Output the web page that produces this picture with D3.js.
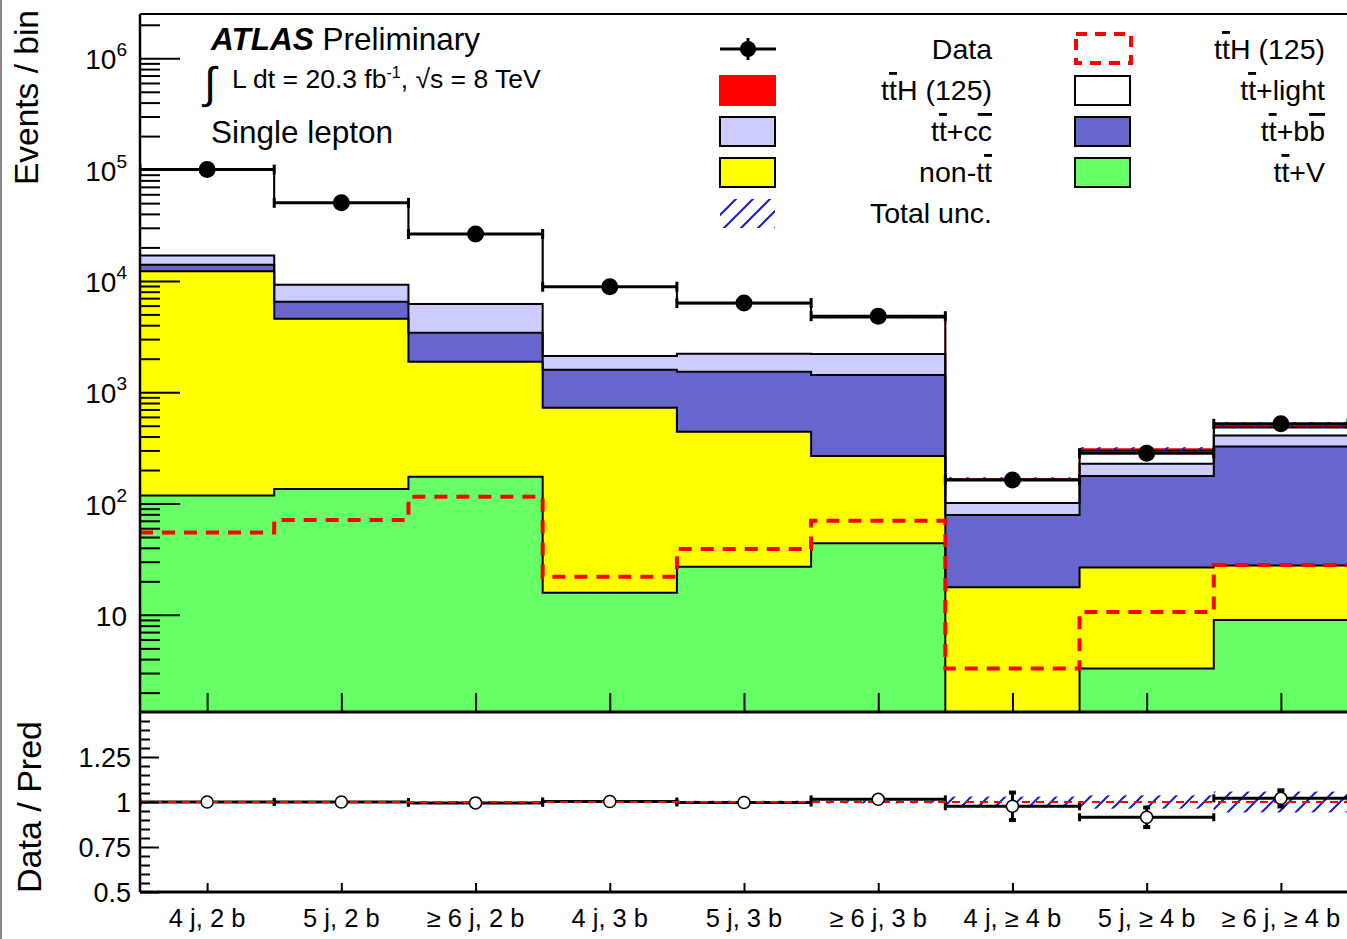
<!DOCTYPE html>
<html>
<head>
<meta charset="utf-8">
<script src="https://cdn.jsdelivr.net/npm/d3@7"></script>
<style>
body { margin: 0; background: #fff; }
text { font-family: "Liberation Sans", Arial, Helvetica, sans-serif; fill: #000; }
</style>
</head>
<body>
<svg id="chart" width="1347" height="939"></svg>
<script>
//
// Data
//
var categories = ["4 j, 2 b", "5 j, 2 b", "\u2265 6 j, 2 b", "4 j, 3 b", "5 j, 3 b",
                  "\u2265 6 j, 3 b", "4 j, \u2265 4 b", "5 j, \u2265 4 b", "\u2265 6 j, \u2265 4 b"];
var dataObs = [100000, 50300, 26400, 8870, 6330, 4820, 163, 283, 520];
var ttV     = [118, 135, 174, 15.8, 27, 44, 1.0, 3.3, 9.0];
var nonTT   = [12080, 4430, 1700, 710, 414, 224, 16.7, 23.3, 18.7];
var ttbb    = [1760, 1930, 1540, 865, 1085, 1162, 61.3, 150, 297];
var ttcc    = [2940, 2740, 2800, 530, 685, 780, 22, 51, 83];
var ttlight = [83000, 41000, 20200, 6700, 4100, 2470, 62.7, 71, 74];
var ttH     = [55, 71, 115, 22, 39, 70, 3.3, 10.6, 28];
var totUnc  = [0.004, 0.004, 0.005, 0.006, 0.007, 0.008, 0.03, 0.037, 0.058];

var yMajor = [10, 100, 1000, 10000, 100000, 1000000];
var rMajor = [0.5, 0.75, 1, 1.25];
var rLabels = ["0.5", "0.75", "1", "1.25"];

//
// Layout
//
var plotLeft = 140, plotRight = 1348,
    plotTop = 14, plotMid = 712, plotBottom = 892,
    ymin = 1.34, ymax = 2.5e6;

var svg = d3.select("#chart");

var x = d3.scaleLinear().domain([0, categories.length]).range([plotLeft, plotRight]);
var y = d3.scaleLog().domain([ymin, ymax]).range([plotMid, plotTop]);
var r = d3.scaleLinear().domain([0.5, 1.5]).range([plotBottom, plotMid]);

function yc(v) { return y(Math.max(v, ymin)); }

// table for the stack
var keys = ["ttV", "nonTT", "ttbb", "ttcc", "ttlight", "ttH"];
var colors = {ttV: "#66ff66", nonTT: "#ffff00", ttbb: "#6666cc", ttcc: "#ccccff", ttlight: "#ffffff", ttH: "#ff0000"};
var table = categories.map(function(c, i) {
    return {cat: c, ttV: ttV[i], nonTT: nonTT[i], ttbb: ttbb[i], ttcc: ttcc[i], ttlight: ttlight[i], ttH: ttH[i]};
});
var series = d3.stack().keys(keys)(table);
var pred = table.map(function(d) { return d3.sum(keys, function(k) { return d[k]; }); });

// defs: clip + hatch
var defs = svg.append("defs");
defs.append("clipPath").attr("id", "clipMain")
    .append("rect").attr("x", plotLeft).attr("y", plotTop).attr("width", plotRight - plotLeft).attr("height", plotMid - plotTop);
defs.append("clipPath").attr("id", "clipRatio")
    .append("rect").attr("x", plotLeft).attr("y", plotMid).attr("width", plotRight - plotLeft).attr("height", plotBottom - plotMid);
var pat = defs.append("pattern").attr("id", "hatch")
    .attr("patternUnits", "userSpaceOnUse").attr("width", 17).attr("height", 17);
pat.append("path").attr("d", "M0,17 L17,0 M-3,3 L3,-3 M14,20 L20,14")
    .attr("stroke", "#1a1acc").attr("stroke-width", 2);

// left border of the picture
svg.append("line").attr("x1", 1).attr("x2", 1).attr("y1", 0).attr("y2", 939)
    .attr("stroke", "#888").attr("stroke-width", 2);

//
// Main panel
//
var main = svg.append("g").attr("clip-path", "url(#clipMain)");

function stepPoints(arr) {
    var pts = [];
    arr.forEach(function(v, i) { pts.push([i, v]); pts.push([i + 1, v]); });
    return pts;
}

var area = d3.area()
    .x(function(d) { return x(d[0]); })
    .y0(function(d) { return yc(d[1]); })
    .y1(function(d) { return yc(d[2]); });
var stepLine = d3.line()
    .x(function(d) { return x(d[0]); })
    .y(function(d) { return yc(d[1]); });

series.forEach(function(s) {
    var pts = [];
    s.forEach(function(d, i) { pts.push([i, d[0], d[1]]); pts.push([i + 1, d[0], d[1]]); });
    main.append("path").attr("d", area(pts)).attr("fill", colors[s.key]).attr("stroke", "none");
});
// outlines: signal (red) first, backgrounds (black) over it
series.slice().reverse().forEach(function(s) {
    main.append("path")
        .attr("d", stepLine(stepPoints(s.map(function(d) { return d[1]; }))))
        .attr("fill", "none")
        .attr("stroke", s.key == "ttH" ? "#ff0000" : "#000")
        .attr("stroke-width", s.key == "ttH" ? 1.5 : 2);
});

// ttH overlay (dashed)
main.append("path")
    .attr("d", stepLine(stepPoints(ttH)))
    .attr("fill", "none").attr("stroke", "#ff0000")
    .attr("stroke-width", 4).attr("stroke-dasharray", "13,9");

// total uncertainty band on top of the stack
main.selectAll(".uncMain").data(pred).enter().append("rect")
    .attr("class", "uncMain")
    .attr("x", function(d, i) { return x(i); })
    .attr("width", x(1) - x(0))
    .attr("y", function(d, i) { return yc(d * (1 + totUnc[i])); })
    .attr("height", function(d, i) { return yc(d * (1 - totUnc[i])) - yc(d * (1 + totUnc[i])); })
    .attr("fill", "url(#hatch)");

// data
var dg = main.append("g");
dataObs.forEach(function(v, i) {
    var yy = y(v), e = Math.sqrt(v);
    dg.append("line").attr("x1", x(i)).attr("x2", x(i + 1)).attr("y1", yy).attr("y2", yy)
        .attr("stroke", "#000").attr("stroke-width", 3);
    [x(i), x(i + 1)].forEach(function(xx) {
        dg.append("line").attr("x1", xx).attr("x2", xx).attr("y1", yy - 5).attr("y2", yy + 5)
            .attr("stroke", "#000").attr("stroke-width", 3);
    });
    dg.append("line").attr("x1", x(i + 0.5)).attr("x2", x(i + 0.5))
        .attr("y1", y(v + e)).attr("y2", y(v - e))
        .attr("stroke", "#000").attr("stroke-width", 3);
    dg.append("circle").attr("cx", x(i + 0.5)).attr("cy", yy).attr("r", 8.5).attr("fill", "#000");
});

// main axes
var yAxisMajor = d3.axisLeft(y).tickValues(yMajor).tickSize(-40).tickFormat("");
var yMinor = [];
for (var k = 0; k <= 6; k++) {
    for (var m = 2; m <= 9; m++) {
        var v = m * Math.pow(10, k);
        if (v > ymin && v < ymax) yMinor.push(v);
    }
}
var yAxisMinor = d3.axisLeft(y).tickValues(yMinor).tickSize(-20).tickFormat("");
svg.append("g").attr("transform", "translate(" + plotLeft + ",0)").call(yAxisMajor);
svg.append("g").attr("transform", "translate(" + plotLeft + ",0)").call(yAxisMinor);

svg.append("g").attr("transform", "translate(0," + plotMid + ")")
    .call(d3.axisBottom(x).tickValues(d3.range(categories.length).map(function(i) { return i + 0.5; }))
        .tickSize(-19).tickFormat(""));

svg.selectAll(".domain").remove();
svg.selectAll(".tick line").attr("stroke", "#000").attr("stroke-width", 2);

// y labels 10^n
yMajor.forEach(function(v) {
    var p = Math.round(Math.log10(v));
    var t = svg.append("text").attr("x", 127).attr("y", y(v) + 11)
        .attr("text-anchor", "end").style("font-size", "28px");
    t.append("tspan").text("10");
    if (p > 1) t.append("tspan").attr("dy", -13).style("font-size", "19px").text(p);
});

//
// Ratio panel
//
var rg = svg.append("g").attr("clip-path", "url(#clipRatio)");
rg.selectAll(".uncRatio").data(totUnc).enter().append("rect")
    .attr("class", "uncRatio")
    .attr("x", function(d, i) { return x(i); })
    .attr("width", x(1) - x(0))
    .attr("y", function(d) { return r(1 + d); })
    .attr("height", function(d) { return r(1 - d) - r(1 + d); })
    .attr("fill", "url(#hatch)");

var ratio = dataObs.map(function(v, i) { return v / pred[i]; });
var ratioErr = dataObs.map(function(v, i) { return Math.sqrt(v) / pred[i]; });

ratio.forEach(function(v, i) {
    var yy = r(v);
    rg.append("line").attr("x1", x(i)).attr("x2", x(i + 1)).attr("y1", yy).attr("y2", yy)
        .attr("stroke", "#000").attr("stroke-width", 3);
    [x(i), x(i + 1)].forEach(function(xx) {
        rg.append("line").attr("x1", xx).attr("x2", xx).attr("y1", yy - 4).attr("y2", yy + 4)
            .attr("stroke", "#000").attr("stroke-width", 3);
    });
    var y1 = r(v + ratioErr[i]), y2 = r(v - ratioErr[i]);
    rg.append("line").attr("x1", x(i + 0.5)).attr("x2", x(i + 0.5)).attr("y1", y1).attr("y2", y2)
        .attr("stroke", "#000").attr("stroke-width", 3);
    if (y2 - y1 > 14) {
        [y1, y2].forEach(function(yy2) {
            rg.append("line").attr("x1", x(i + 0.5) - 3.5).attr("x2", x(i + 0.5) + 3.5)
                .attr("y1", yy2).attr("y2", yy2).attr("stroke", "#000").attr("stroke-width", 4);
        });
    }
});

rg.append("line").attr("x1", plotLeft).attr("x2", plotRight).attr("y1", r(1)).attr("y2", r(1))
    .attr("stroke", "#ff0000").attr("stroke-width", 2).attr("stroke-dasharray", "8,6");

rg.selectAll(".rpt").data(ratio).enter().append("circle")
    .attr("class", "rpt")
    .attr("cx", function(d, i) { return x(i + 0.5); })
    .attr("cy", function(d) { return r(d); })
    .attr("r", 6).attr("fill", "#fff").attr("stroke", "#000").attr("stroke-width", 1.5);

// ratio axes
var rMinor = d3.range(0.55, 1.5, 0.05).filter(function(v) {
    return rMajor.every(function(m) { return Math.abs(m - v) > 0.01; });
});
var rAxisG = svg.append("g").attr("transform", "translate(" + plotLeft + ",0)");
rAxisG.append("g").call(d3.axisLeft(r).tickValues(rMajor).tickSize(-19).tickFormat(""));
rAxisG.append("g").call(d3.axisLeft(r).tickValues(rMinor).tickSize(-10).tickFormat(""));
svg.append("g").attr("transform", "translate(0," + plotBottom + ")")
    .call(d3.axisBottom(x).tickValues(d3.range(categories.length).map(function(i) { return i + 0.5; }))
        .tickSize(-9).tickFormat(""));
svg.selectAll(".domain").remove();
svg.selectAll(".tick line").attr("stroke", "#000").attr("stroke-width", 2);

rMajor.forEach(function(v, i) {
    svg.append("text").attr("x", 131).attr("y", r(v) + 10)
        .attr("text-anchor", "end").style("font-size", "27px").text(rLabels[i]);
});

categories.forEach(function(c, i) {
    svg.append("text").attr("x", x(i + 0.5)).attr("y", 927)
        .attr("text-anchor", "middle").style("font-size", "25.5px").text(c);
});

// frames
svg.append("line").attr("x1", plotLeft).attr("x2", plotLeft).attr("y1", plotTop).attr("y2", plotBottom)
    .attr("stroke", "#000").attr("stroke-width", 2.5);
svg.append("line").attr("x1", plotLeft).attr("x2", plotRight).attr("y1", plotTop).attr("y2", plotTop)
    .attr("stroke", "#000").attr("stroke-width", 2);
svg.append("line").attr("x1", plotLeft).attr("x2", plotRight).attr("y1", plotMid).attr("y2", plotMid)
    .attr("stroke", "#000").attr("stroke-width", 3);
svg.append("line").attr("x1", plotLeft).attr("x2", plotRight).attr("y1", plotBottom).attr("y2", plotBottom)
    .attr("stroke", "#000").attr("stroke-width", 3);

// axis titles
svg.append("text").attr("transform", "translate(38,10) rotate(-90)")
    .attr("text-anchor", "end").style("font-size", "33.5px").text("Events / bin");
svg.append("text").attr("transform", "translate(41,721) rotate(-90)")
    .attr("text-anchor", "end").style("font-size", "34px").text("Data / Pred");

//
// ATLAS label
//
var t1 = svg.append("text").attr("x", 211).attr("y", 50).style("font-size", "31.5px");
t1.append("tspan").style("font-weight", "bold").style("font-style", "italic").text("ATLAS");
t1.append("tspan").text(" Preliminary");

svg.append("text").attr("x", 204).attr("y", 98).style("font-size", "44px").text("\u222B");
var t2 = svg.append("text").attr("x", 232).attr("y", 88).style("font-size", "26.5px");
t2.append("tspan").text("L dt = 20.3 fb");
t2.append("tspan").attr("dy", -10).style("font-size", "16px").text("-1");
t2.append("tspan").attr("dy", 10).text(", \u221As = 8 TeV");

svg.append("text").attr("x", 211).attr("y", 143).style("font-size", "31.5px").text("Single lepton");

//
// Legend
//
function richLabel(sel, parts) {
    parts.forEach(function(p) {
        var ts = sel.append("tspan").text(p[0]);
        if (p[1]) ts.style("text-decoration", "overline");
    });
}
var TT = [["t"], ["t", 1]];
var legendItems = [
    {col: 0, row: 0, type: "data", parts: [["Data"]]},
    {col: 0, row: 1, type: "box", fill: "#ff0000", stroke: "#ff0000", parts: TT.concat([["H (125)"]])},
    {col: 0, row: 2, type: "box", fill: "#ccccff", stroke: "#000", parts: TT.concat([["+c"], ["c", 1]])},
    {col: 0, row: 3, type: "box", fill: "#ffff00", stroke: "#000", parts: [["non-t"], ["t", 1]]},
    {col: 0, row: 4, type: "hatch", parts: [["Total unc."]]},
    {col: 1, row: 0, type: "dash", parts: TT.concat([["H (125)"]])},
    {col: 1, row: 1, type: "box", fill: "#ffffff", stroke: "#000", parts: TT.concat([["+light"]])},
    {col: 1, row: 2, type: "box", fill: "#6666cc", stroke: "#000", parts: TT.concat([["+b"], ["b", 1]])},
    {col: 1, row: 3, type: "box", fill: "#66ff66", stroke: "#000", parts: TT.concat([["+V"]])}
];
var rowY = [49, 90, 131, 172, 213];
var colX = [720, 1075], colText = [992, 1325];
var lg = svg.append("g");
legendItems.forEach(function(it) {
    var x0 = colX[it.col], yc0 = rowY[it.row];
    if (it.type == "data") {
        lg.append("line").attr("x1", x0).attr("x2", x0 + 56).attr("y1", yc0).attr("y2", yc0)
            .attr("stroke", "#000").attr("stroke-width", 3);
        lg.append("line").attr("x1", x0 + 28).attr("x2", x0 + 28).attr("y1", yc0 - 11).attr("y2", yc0 + 11)
            .attr("stroke", "#000").attr("stroke-width", 3);
        lg.append("circle").attr("cx", x0 + 28).attr("cy", yc0).attr("r", 8).attr("fill", "#000");
    } else if (it.type == "box") {
        lg.append("rect").attr("x", x0).attr("y", yc0 - 14).attr("width", 55).attr("height", 29)
            .attr("fill", it.fill).attr("stroke", it.stroke).attr("stroke-width", 2);
    } else if (it.type == "dash") {
        lg.append("rect").attr("x", x0 + 1).attr("y", yc0 - 15).attr("width", 55).attr("height", 29)
            .attr("fill", "none").attr("stroke", "#ff0000").attr("stroke-width", 4)
            .attr("stroke-dasharray", "11,8");
    } else if (it.type == "hatch") {
        lg.append("rect").attr("x", x0).attr("y", yc0 - 14).attr("width", 55).attr("height", 29)
            .attr("fill", "url(#hatch)");
    }
    var t = lg.append("text").attr("x", colText[it.col]).attr("y", yc0 + 10)
        .attr("text-anchor", "end").style("font-size", "28.5px");
    richLabel(t, it.parts);
});
</script>
</body>
</html>
